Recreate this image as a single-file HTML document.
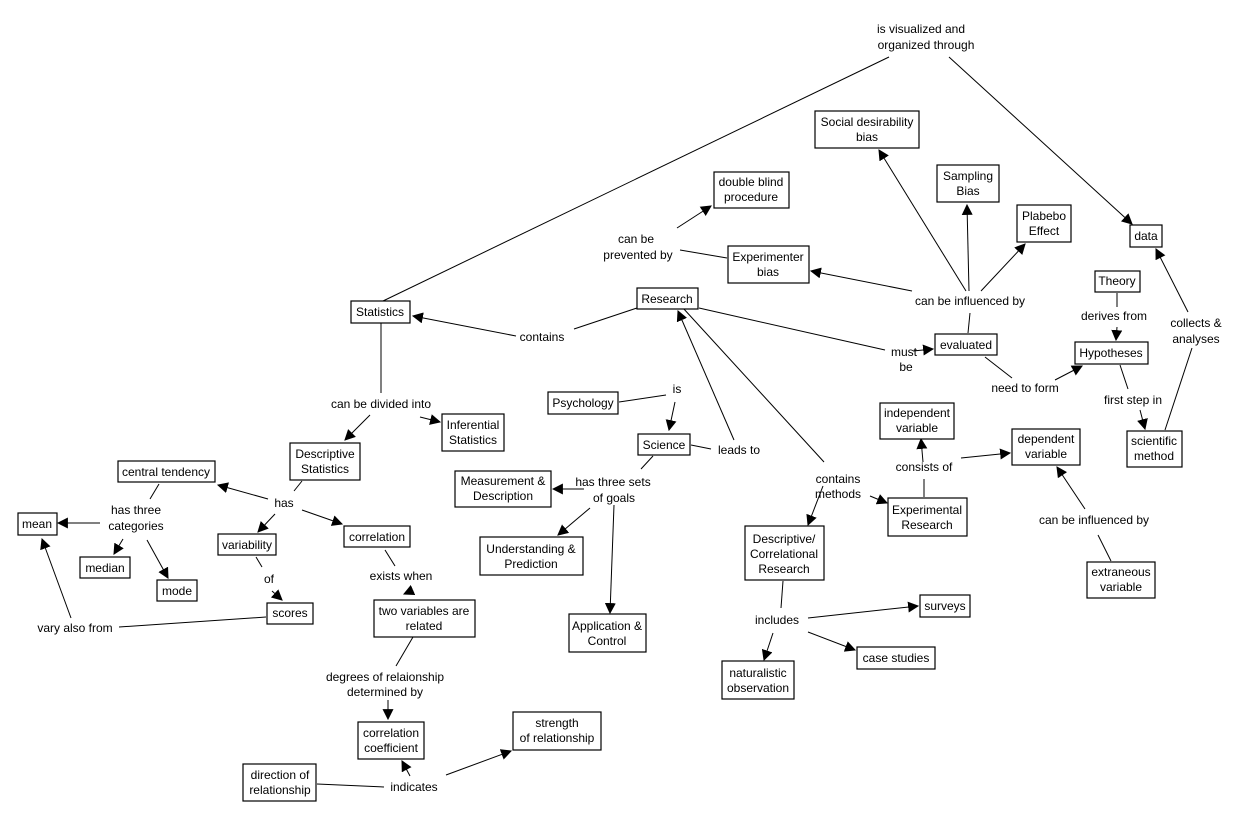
<!DOCTYPE html>
<html><head><meta charset="utf-8"><style>
html,body{margin:0;padding:0;background:#fff;}
svg{display:block;font-family:"Liberation Sans",Arial,sans-serif;font-size:12px;}
rect{fill:#fff;stroke:#000;stroke-width:1.2;}
line{stroke:#000;stroke-width:1;}
text{fill:#000;text-anchor:middle;}
</style></head><body>
<svg width="1248" height="821" viewBox="0 0 1248 821">
<defs><marker id="a" viewBox="0 0 10 10" refX="9" refY="5" markerWidth="11" markerHeight="11" markerUnits="userSpaceOnUse" orient="auto"><path d="M0,0 L10,5 L0,10 z" fill="#000"/></marker></defs>
<g>
<line x1="383" y1="301" x2="889" y2="57"/>
<line x1="949" y1="57" x2="1132" y2="224" marker-end="url(#a)"/>
<line x1="637" y1="308" x2="574" y2="329"/>
<line x1="516" y1="336" x2="413" y2="316" marker-end="url(#a)"/>
<line x1="381" y1="323" x2="381" y2="393"/>
<line x1="370" y1="415" x2="345" y2="440" marker-end="url(#a)"/>
<line x1="420" y1="417" x2="440" y2="422" marker-end="url(#a)"/>
<line x1="302" y1="481" x2="294" y2="491"/>
<line x1="268" y1="499" x2="218" y2="485" marker-end="url(#a)"/>
<line x1="275" y1="514" x2="258" y2="532" marker-end="url(#a)"/>
<line x1="302" y1="510" x2="342" y2="524" marker-end="url(#a)"/>
<line x1="159" y1="484" x2="150" y2="499"/>
<line x1="100" y1="523" x2="58" y2="523" marker-end="url(#a)"/>
<line x1="123" y1="539" x2="114" y2="554" marker-end="url(#a)"/>
<line x1="147" y1="540" x2="168" y2="578" marker-end="url(#a)"/>
<line x1="256" y1="557" x2="262" y2="567"/>
<line x1="272" y1="591" x2="282" y2="600" marker-end="url(#a)"/>
<line x1="266" y1="617" x2="119" y2="627"/>
<line x1="71" y1="618" x2="42" y2="539" marker-end="url(#a)"/>
<line x1="385" y1="550" x2="395" y2="566"/>
<line x1="413" y1="590" x2="404" y2="594" marker-end="url(#a)"/>
<line x1="413" y1="637" x2="396" y2="666"/>
<line x1="388" y1="700" x2="388" y2="719" marker-end="url(#a)"/>
<line x1="384" y1="787" x2="317" y2="784"/>
<line x1="410" y1="776" x2="402" y2="761" marker-end="url(#a)"/>
<line x1="446" y1="775" x2="511" y2="751" marker-end="url(#a)"/>
<line x1="619" y1="402" x2="666" y2="395"/>
<line x1="675" y1="402" x2="669" y2="430" marker-end="url(#a)"/>
<line x1="691" y1="445" x2="711" y2="449"/>
<line x1="734" y1="440" x2="678" y2="311" marker-end="url(#a)"/>
<line x1="653" y1="456" x2="641" y2="469"/>
<line x1="584" y1="489" x2="553" y2="489" marker-end="url(#a)"/>
<line x1="590" y1="508" x2="558" y2="535" marker-end="url(#a)"/>
<line x1="614" y1="505" x2="610" y2="613" marker-end="url(#a)"/>
<line x1="683" y1="308" x2="824" y2="462"/>
<line x1="823" y1="486" x2="808" y2="525" marker-end="url(#a)"/>
<line x1="870" y1="496" x2="887" y2="503" marker-end="url(#a)"/>
<line x1="699" y1="308" x2="885" y2="350"/>
<line x1="913" y1="351" x2="933" y2="349" marker-end="url(#a)"/>
<line x1="968" y1="333" x2="970" y2="313"/>
<line x1="966" y1="291" x2="879" y2="150" marker-end="url(#a)"/>
<line x1="969" y1="291" x2="967" y2="205" marker-end="url(#a)"/>
<line x1="981" y1="291" x2="1025" y2="244" marker-end="url(#a)"/>
<line x1="912" y1="291" x2="811" y2="271" marker-end="url(#a)"/>
<line x1="727" y1="258" x2="680" y2="250"/>
<line x1="677" y1="228" x2="711" y2="206" marker-end="url(#a)"/>
<line x1="985" y1="357" x2="1012" y2="378"/>
<line x1="1055" y1="380" x2="1082" y2="366" marker-end="url(#a)"/>
<line x1="1117" y1="293" x2="1117" y2="307"/>
<line x1="1117" y1="327" x2="1116" y2="340" marker-end="url(#a)"/>
<line x1="1120" y1="365" x2="1128" y2="389"/>
<line x1="1140" y1="410" x2="1145" y2="429" marker-end="url(#a)"/>
<line x1="1165" y1="430" x2="1192" y2="348"/>
<line x1="1188" y1="312" x2="1156" y2="249" marker-end="url(#a)"/>
<line x1="924" y1="497" x2="924" y2="479"/>
<line x1="923" y1="462" x2="921" y2="439" marker-end="url(#a)"/>
<line x1="961" y1="458" x2="1010" y2="453" marker-end="url(#a)"/>
<line x1="1111" y1="561" x2="1098" y2="535"/>
<line x1="1085" y1="509" x2="1057" y2="467" marker-end="url(#a)"/>
<line x1="783" y1="581" x2="781" y2="608"/>
<line x1="808" y1="618" x2="918" y2="606" marker-end="url(#a)"/>
<line x1="808" y1="632" x2="855" y2="650" marker-end="url(#a)"/>
<line x1="773" y1="633" x2="764" y2="660" marker-end="url(#a)"/>
</g>
<g>
<rect x="351" y="301" width="59" height="22"/><text x="380" y="316">Statistics</text>
<rect x="637" y="288" width="61" height="21"/><text x="667" y="303">Research</text>
<rect x="815" y="111" width="104" height="37"/><text x="867" y="126">Social desirability</text><text x="867" y="141">bias</text>
<rect x="714" y="172" width="75" height="36"/><text x="751" y="186">double blind</text><text x="751" y="201">procedure</text>
<rect x="937" y="165" width="62" height="37"/><text x="968" y="180">Sampling</text><text x="968" y="195">Bias</text>
<rect x="1017" y="205" width="54" height="37"/><text x="1044" y="220">Plabebo</text><text x="1044" y="235">Effect</text>
<rect x="1130" y="225" width="32" height="22"/><text x="1146" y="240">data</text>
<rect x="728" y="246" width="81" height="37"/><text x="768" y="261">Experimenter</text><text x="768" y="276">bias</text>
<rect x="1095" y="271" width="45" height="21"/><text x="1117" y="285">Theory</text>
<rect x="935" y="334" width="62" height="21"/><text x="966" y="349">evaluated</text>
<rect x="1075" y="342" width="73" height="22"/><text x="1111" y="357">Hypotheses</text>
<rect x="548" y="392" width="70" height="22"/><text x="583" y="407">Psychology</text>
<rect x="442" y="414" width="62" height="37"/><text x="473" y="429">Inferential</text><text x="473" y="444">Statistics</text>
<rect x="880" y="403" width="74" height="36"/><text x="917" y="417">independent</text><text x="917" y="432">variable</text>
<rect x="1012" y="429" width="68" height="36"/><text x="1046" y="443">dependent</text><text x="1046" y="458">variable</text>
<rect x="1127" y="431" width="55" height="36"/><text x="1154" y="445">scientific</text><text x="1154" y="460">method</text>
<rect x="638" y="434" width="52" height="21"/><text x="664" y="449">Science</text>
<rect x="290" y="443" width="70" height="37"/><text x="325" y="458">Descriptive</text><text x="325" y="473">Statistics</text>
<rect x="118" y="461" width="97" height="21"/><text x="166" y="476">central tendency</text>
<rect x="455" y="471" width="96" height="36"/><text x="503" y="485">Measurement &amp;</text><text x="503" y="500">Description</text>
<rect x="888" y="498" width="79" height="38"/><text x="927" y="514">Experimental</text><text x="927" y="529">Research</text>
<rect x="18" y="513" width="39" height="22"/><text x="37" y="528">mean</text>
<rect x="344" y="526" width="66" height="21"/><text x="377" y="541">correlation</text>
<rect x="745" y="526" width="79" height="54"/><text x="784" y="543">Descriptive/</text><text x="784" y="558">Correlational</text><text x="784" y="573">Research</text>
<rect x="218" y="534" width="58" height="21"/><text x="247" y="549">variability</text>
<rect x="480" y="537" width="103" height="38"/><text x="531" y="553">Understanding &amp;</text><text x="531" y="568">Prediction</text>
<rect x="80" y="557" width="50" height="21"/><text x="105" y="572">median</text>
<rect x="1087" y="562" width="68" height="36"/><text x="1121" y="576">extraneous</text><text x="1121" y="591">variable</text>
<rect x="157" y="580" width="40" height="21"/><text x="177" y="595">mode</text>
<rect x="920" y="595" width="50" height="22"/><text x="945" y="610">surveys</text>
<rect x="267" y="603" width="46" height="21"/><text x="290" y="617">scores</text>
<rect x="374" y="600" width="101" height="37"/><text x="424" y="615">two variables are</text><text x="424" y="630">related</text>
<rect x="569" y="614" width="77" height="38"/><text x="607" y="630">Application &amp;</text><text x="607" y="645">Control</text>
<rect x="857" y="647" width="78" height="22"/><text x="896" y="662">case studies</text>
<rect x="722" y="661" width="72" height="38"/><text x="758" y="677">naturalistic</text><text x="758" y="692">observation</text>
<rect x="513" y="712" width="88" height="38"/><text x="557" y="727">strength</text><text x="557" y="742">of relationship</text>
<rect x="358" y="722" width="66" height="37"/><text x="391" y="737">correlation</text><text x="391" y="752">coefficient</text>
<rect x="243" y="764" width="73" height="37"/><text x="280" y="779">direction of</text><text x="280" y="794">relationship</text>
</g>
<g>
<text x="921" y="33">is visualized and</text><text x="926" y="49">organized through</text>
<text x="636" y="243">can be</text><text x="638" y="259">prevented by</text>
<text x="970" y="305">can be influenced by</text>
<text x="542" y="341">contains</text>
<text x="904" y="356">must</text><text x="906" y="371">be</text>
<text x="1114" y="320">derives from</text>
<text x="1196" y="327">collects &amp;</text><text x="1196" y="343">analyses</text>
<text x="1025" y="392">need to form</text>
<text x="1133" y="404">first step in</text>
<text x="381" y="408">can be divided into</text>
<text x="677" y="393">is</text>
<text x="739" y="454">leads to</text>
<text x="924" y="471">consists of</text>
<text x="284" y="507">has</text>
<text x="136" y="514">has three</text><text x="136" y="530">categories</text>
<text x="613" y="486">has three sets</text><text x="614" y="502">of goals</text>
<text x="838" y="483">contains</text><text x="838" y="498">methods</text>
<text x="1094" y="524">can be influenced by</text>
<text x="401" y="580">exists when</text>
<text x="269" y="583">of</text>
<text x="777" y="624">includes</text>
<text x="75" y="632">vary also from</text>
<text x="385" y="681">degrees of relaionship</text><text x="385" y="696">determined by</text>
<text x="414" y="791">indicates</text>
</g>
</svg>
</body></html>
